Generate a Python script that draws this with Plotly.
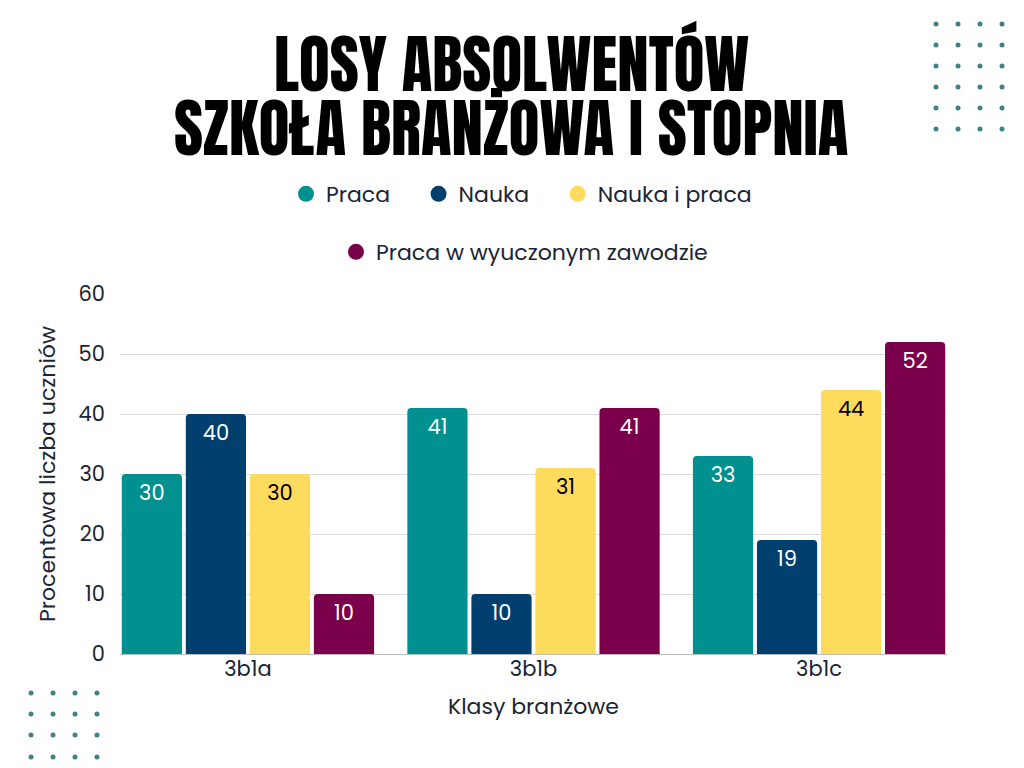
import plotly.graph_objects as go

klasy = ["3b1a", "3b1b", "3b1c"]
praca = [30, 41, 33]
nauka = [40, 10, 19]
nauka_i_praca = [30, 31, 44]
praca_w_zawodzie = [10, 41, 52]

serie = [
    ("Praca", praca, "#00908f", "white"),
    ("Nauka", nauka, "#003f6e", "white"),
    ("Nauka i praca", nauka_i_praca, "#fddb5c", "black"),
    ("Praca w wyuczonym zawodzie", praca_w_zawodzie, "#7a004b", "white"),
]

FONT = "Poppins, sans-serif"
TXT = "#1b2433"

# page has 8px body margin, so work in screen pixels minus 8
W, H = 1016, 760
OFF = 8
L, R, T, B = 120 - OFF, 947 - OFF, 294 - OFF, 654 - OFF

def px(x):
    return (x - OFF - L) / (R - L)

def py(y):
    return (B - (y - OFF)) / (B - T)

fig = go.Figure()

for i, (nazwa, wartosci, kolor, kolor_tekstu) in enumerate(serie):
    fig.add_trace(go.Bar(
        x=klasy, y=wartosci, name=nazwa,
        marker=dict(color=kolor, line=dict(width=0)),
        text=wartosci, textposition="inside", insidetextanchor="end",
        textfont=dict(family=FONT, size=21, color=kolor_tekstu),
        showlegend=False, hoverinfo="x+y",
    ))
    # legend entries with round markers (extra spaces widen the gap between items)
    fig.add_trace(go.Scatter(
        x=[None], y=[None], mode="markers",
        name=nazwa + ("\u00a0" * 4 if i < 2 else ""),
        marker=dict(color=kolor, size=22, symbol="circle"),
        legend="legend2" if i == 3 else "legend",
        hoverinfo="skip",
    ))

# decorative dots
def kropki(xs, ys):
    for cx in xs:
        for cy in ys:
            fig.add_shape(type="circle", xref="paper", yref="paper",
                          x0=px(cx - 2.5), x1=px(cx + 2.5), y0=py(cy + 2.5), y1=py(cy - 2.5),
                          fillcolor="#3d8284", line=dict(width=0))

kropki([936, 958, 980, 1002], [24, 45, 66, 87, 108, 129])
kropki([31, 53, 75, 97], [693, 714, 735, 757])

# title, two lines
for linia, yy in [("LOSY ABSOLWENTÓW", 64), ("SZKOŁA BRANŻOWA I STOPNIA", 128)]:
    fig.add_annotation(text=linia, xref="paper", yref="paper", x=px(511), y=py(yy),
                       xanchor="center", yanchor="middle", showarrow=False,
                       font=dict(family="Anton, Oswald, sans-serif", size=63, color="black"))

fig.update_layout(
    width=W, height=H,
    margin=dict(l=L, r=W - R, t=T, b=H - B),
    paper_bgcolor="white", plot_bgcolor="white",
    font=dict(family=FONT, size=22, color=TXT),
    barmode="group", bargap=0.103, bargroupgap=0.06, barcornerradius=4,
    legend=dict(orientation="h", x=px(286), xanchor="left", y=py(194), yanchor="middle",
                font=dict(family=FONT, size=22, color=TXT),
                itemclick=False, itemdoubleclick=False, traceorder="normal"),
    legend2=dict(orientation="h", x=px(336), xanchor="left", y=py(252), yanchor="middle",
                 font=dict(family=FONT, size=22, color=TXT),
                 itemclick=False, itemdoubleclick=False),
    xaxis=dict(
        range=[-0.448, 2.448], showgrid=False, showline=False, ticks="",
        tickfont=dict(size=21), title=dict(text="Klasy branżowe", font=dict(size=22), standoff=16),
    ),
    yaxis=dict(
        range=[0, 60], dtick=10, showgrid=True, gridcolor="#dddddd", gridwidth=1,
        zeroline=True, zerolinecolor="#bbbbbb", zerolinewidth=1,
        showline=False, ticks="", tickfont=dict(size=21), ticklabelstandoff=14,
        title=dict(text="Procentowa liczba uczniów", font=dict(size=22), standoff=16),
    ),
)

fig.write_html("out.html")
